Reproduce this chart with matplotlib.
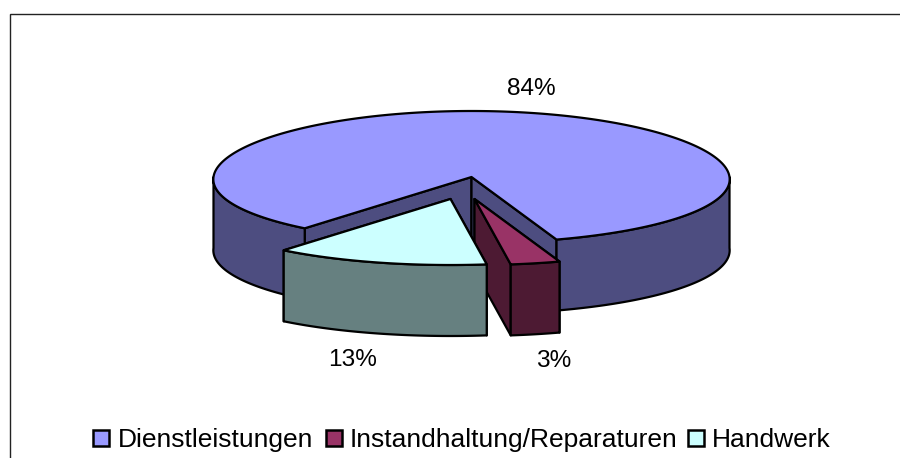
import numpy as np
import matplotlib
matplotlib.use("Agg")
import matplotlib.pyplot as plt
from matplotlib.patches import Rectangle

# Data
categories = ["Dienstleistungen", "Instandhaltung/Reparaturen", "Handwerk"]
values = [84, 3, 13]
value_labels = ["84%", "3%", "13%"]

# Style
top_colors = ["#9999FF", "#993366", "#CCFFFF"]
side_colors = ["#4D4D80", "#4D1A33", "#668080"]
offsets = [(0, 0), (3, 22), (-21, 22)]          # explosion of each slice
label_pos = [(531, 89), (554, 361), (353, 360)]
legend_box_x = [93, 326, 688]
legend_text_x = [118, 350, 712]
CX, CY, RX, RY, DEPTH = 471.5, 177, 258, 66, 71
PERSPECTIVE = 0.035
START = 219
LW = 1.6
plt.rcParams["font.family"] = ["Liberation Sans", "DejaVu Sans"]

fig = plt.figure(figsize=(9, 4.58), dpi=100, facecolor="white")
ax = fig.add_axes([0, 0, 1, 1])
ax.set_xlim(0, 900)
ax.set_ylim(458, 0)
ax.axis("off")


def rim(t, ox, oy, dz=0.0):
    t = np.radians(t)
    widen = 1 - PERSPECTIVE * np.cos(t)
    return CX + ox + RX * np.sin(t) * widen, CY + oy - RY * np.cos(t) + dz


def poly(xs, ys, color, z):
    ax.fill(xs, ys, facecolor=color, edgecolor="black", linewidth=LW,
            joinstyle="round", zorder=z)


def draw_slice(t0, t1, ox, oy, top, side, z):
    ax_x, ax_y = CX + ox, CY + oy
    # inner walls, from the apex out to each cut edge
    for t in (t0, t1):
        x, y = rim(t, ox, oy)
        poly([ax_x, x, x, ax_x], [ax_y, y, y + DEPTH, ax_y + DEPTH], side, z)
    # outer wall, front part only
    for shift in (0, 360):
        a, b = max(t0, 90 + shift), min(t1, 270 + shift)
        if b > a:
            t = np.linspace(a, b, 120)
            xu, yu = rim(t, ox, oy)
            xl, yl = rim(t[::-1], ox, oy, DEPTH)
            poly(np.r_[xu, xl], np.r_[yu, yl], side, z + 0.1)
    # top face
    t = np.linspace(t0, t1, 400)
    x, y = rim(t, ox, oy)
    poly(np.r_[ax_x, x], np.r_[ax_y, y], top, z + 0.2)


total = sum(values)
t = START
for i, v in enumerate(values):
    sweep = 360 * v / total
    draw_slice(t, t + sweep, offsets[i][0], offsets[i][1], top_colors[i], side_colors[i], i + 1)
    t += sweep

# Data labels
for lab, (x, y) in zip(value_labels, label_pos):
    ax.text(x, y, lab, fontsize=17.6, ha="center", va="center", color="black", zorder=10)

# Legend
for name, color, bx, tx in zip(categories, top_colors, legend_box_x, legend_text_x):
    ax.add_patch(Rectangle((bx, 430), 16, 16, facecolor=color, edgecolor="black", linewidth=1.8, zorder=10))
    ax.text(tx, 440, name, fontsize=19, ha="left", va="center", color="black", zorder=10)

# Chart frame (open to the right and bottom)
ax.plot([10, 10, 900], [458, 13.5, 13.5], color="#222222", linewidth=1.0, solid_joinstyle="miter", zorder=11)

fig.savefig("out.png", dpi=100)
